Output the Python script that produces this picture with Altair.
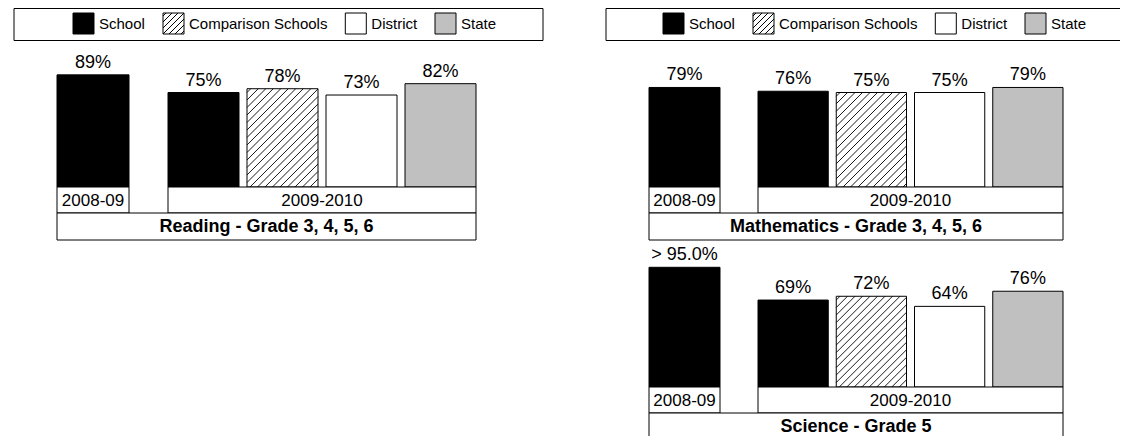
import altair as alt
import pandas as pd

# ---------------- data ----------------
series = ["School", "Comparison Schools", "District", "State"]
years = ["2008-09", "2009-2010"]
subjects = ["Reading - Grade 3, 4, 5, 6", "Mathematics - Grade 3, 4, 5, 6", "Science - Grade 5"]
prior_school = [89, 79, 95]
prior_labels = ["89%", "79%", "> 95.0%"]
cur_school = [75, 76, 69]
cur_comparison = [78, 75, 72]
cur_district = [73, 75, 64]
cur_state = [82, 79, 76]

# ---------------- style ----------------
FONT = "Liberation Sans"
FILL = ["#000000", "#ffffff", "#ffffff", "#c0c0c0"]
PX = 1.26      # pixels per percentage point
HATCH = 7.5    # horizontal spacing of hatch lines
color_scale = alt.Scale(domain=series, range=FILL)
LEGEND_OFFSETS = [0, 90, 272.3, 362]   # swatch positions relative to the first swatch


def hatch_segments(width, height, step=HATCH):
    """45-degree '/' lines inside a width x height box (y measured upward)."""
    segs = []
    c = -height + step / 2
    while c < width:
        xa = max(0.0, c)
        xb = min(width, c + height)
        if xb > xa:
            segs.append((xa, xa - c, xb, xb - c))
        c += step
    return segs


def bar_panel(i, width, height, base, first, group_x0, step, bw):
    xs = alt.Scale(domain=[0, width], nice=False, zero=False)
    ys = alt.Scale(domain=[(base - height) / PX, base / PX], nice=False, zero=False)
    cur = [cur_school[i], cur_comparison[i], cur_district[i], cur_state[i]]
    rows = [dict(series=series[0], year=years[0], value=prior_school[i],
                 label=prior_labels[i], x0=first[0], x1=first[1])]
    for j, s in enumerate(series):
        x0 = group_x0 + j * step
        rows.append(dict(series=s, year=years[1], value=cur[j], label=f"{cur[j]}%",
                         x0=x0, x1=x0 + bw))
    df = pd.DataFrame(rows)
    df["zero"] = 0
    df["xc"] = (df.x0 + df.x1) / 2

    hrows = []
    for r in rows:
        if r["series"] == "Comparison Schools":
            for xa, ya, xb, yb in hatch_segments(r["x1"] - r["x0"], r["value"] * PX):
                hrows.append(dict(xa=r["x0"] + xa, ya=ya / PX, xb=r["x0"] + xb, yb=yb / PX))
    hdf = pd.DataFrame(hrows)

    ydf = pd.DataFrame(dict(year=years, x0=[first[0], group_x0],
                            x1=[first[1], group_x0 + 3 * step + bw]))
    ydf["xc"] = (ydf.x0 + ydf.x1) / 2
    tdf = pd.DataFrame(dict(subject=[subjects[i]], x0=[first[0]],
                            x1=[group_x0 + 3 * step + bw]))
    tdf["xc"] = (tdf.x0 + tdf.x1) / 2

    X = lambda f: alt.X(f, scale=xs, axis=None)
    Y = lambda f: alt.Y(f, scale=ys, axis=None)

    bars = alt.Chart(df).mark_rect(stroke="black", strokeWidth=1).encode(
        x=X("x0:Q"), x2="x1:Q", y=Y("value:Q"), y2="zero:Q",
        fill=alt.Fill("series:N", scale=color_scale, legend=None))
    hatch = alt.Chart(hdf).mark_rule(color="black", strokeWidth=0.9).encode(
        x=X("xa:Q"), x2="xb:Q", y=Y("ya:Q"), y2="yb:Q")
    labels = alt.Chart(df).mark_text(font=FONT, fontSize=18, baseline="alphabetic",
                                     dy=-7, color="black").encode(
        x=X("xc:Q"), y=Y("value:Q"), text="label:N")
    ybox = alt.Chart(ydf).mark_rect(fill="white", stroke="black", strokeWidth=1).encode(
        x=X("x0:Q"), x2="x1:Q", y=alt.value(base), y2=alt.value(base + 26))
    ytext = alt.Chart(ydf).mark_text(font=FONT, fontSize=17, baseline="middle",
                                     color="black").encode(
        x=X("xc:Q"), y=alt.value(base + 13.5), text="year:N")
    tbox = alt.Chart(tdf).mark_rect(fill="white", stroke="black", strokeWidth=1,
                                    clip=True).encode(
        x=X("x0:Q"), x2="x1:Q", y=alt.value(base + 26), y2=alt.value(base + 53))
    ttext = alt.Chart(tdf).mark_text(font=FONT, fontSize=18, fontWeight="bold",
                                     baseline="middle", color="black").encode(
        x=X("xc:Q"), y=alt.value(base + 40), text="subject:N")
    return alt.layer(bars, hatch, labels, ybox, ytext, tbox, ttext).properties(
        width=width, height=height)


def legend_panel(width, box_x2, start):
    swatch_x = [start + o for o in LEGEND_OFFSETS]
    sdf = pd.DataFrame(dict(series=series, sx=swatch_x, sx2=[v + 21 for v in swatch_x],
                            tx=[v + 26 for v in swatch_x]))
    hrows = []
    for xa, ya, xb, yb in hatch_segments(21, 21, step=6):
        hrows.append(dict(xa=swatch_x[1] + xa, ya=26 - ya, xb=swatch_x[1] + xb, yb=26 - yb))
    hdf = pd.DataFrame(hrows)
    box = alt.Chart(pd.DataFrame({"k": [0]})).mark_rect(
        fill="white", stroke="black", strokeWidth=1, clip=True).encode(
        x=alt.value(6), x2=alt.value(box_x2), y=alt.value(0.5), y2=alt.value(32.5))
    sw = alt.Chart(sdf).mark_rect(stroke="black", strokeWidth=1).encode(
        x=alt.X("sx:Q", scale=None), x2="sx2:Q", y=alt.value(5), y2=alt.value(26),
        fill=alt.Fill("series:N", scale=color_scale, legend=None))
    hatch = alt.Chart(hdf).mark_rule(color="black", strokeWidth=1).encode(
        x=alt.X("xa:Q", scale=None), x2="xb:Q", y=alt.Y("ya:Q", scale=None), y2="yb:Q")
    txt = alt.Chart(sdf).mark_text(font=FONT, fontSize=15, align="left",
                                   baseline="middle", color="black").encode(
        x=alt.X("tx:Q", scale=None), y=alt.value(16), text="series:N")
    return alt.layer(box, sw, hatch, txt).properties(width=width, height=33)


left = alt.vconcat(
    legend_panel(592, 535, 65),
    bar_panel(0, 592, 201, 146, (49, 121), 160, 79, 71),
    spacing=0, bounds="flush")
right = alt.vconcat(
    legend_panel(520, 560, 63),
    bar_panel(1, 520, 201, 146, (49, 120), 158, 78.25, 70.25),
    bar_panel(2, 520, 194, 145, (49, 120), 158, 78.25, 70.25),
    spacing=0, bounds="flush")

chart = alt.hconcat(left, right, spacing=0).properties(
    padding=0).configure_view(stroke=None)

chart.save("out.html", embed_options={"renderer": "svg", "actions": False})
